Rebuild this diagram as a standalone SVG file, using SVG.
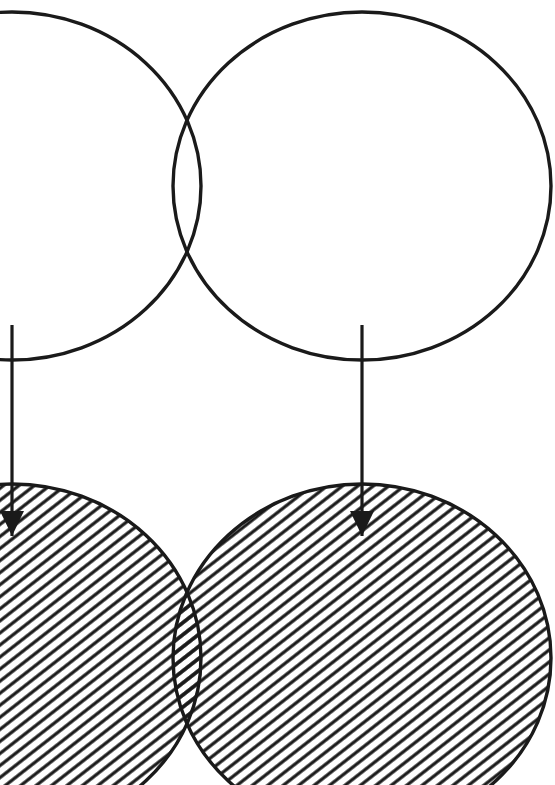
<svg xmlns="http://www.w3.org/2000/svg" width="555" height="785" viewBox="0 0 555 785">
  <style>
    .outline { fill: none; stroke: #1a1a1a; stroke-width: 3.4; }
    .hatched { fill: url(#hatch); stroke: #1a1a1a; stroke-width: 3.4; }
    .conn { stroke: #1a1a1a; stroke-width: 3.2; fill: none; }
  </style>
  <defs>
    <pattern id="hatch" patternUnits="userSpaceOnUse" width="9.5" height="9.5" patternTransform="rotate(-38)">
      <line x1="-1" y1="4.75" x2="10.5" y2="4.75" stroke="#1a1a1a" stroke-width="3.2"/>
    </pattern>
    <marker id="arrow" markerUnits="userSpaceOnUse" markerWidth="26" markerHeight="26" viewBox="0 0 26 26" refX="25" refY="13" orient="auto">
      <path d="M0,1 L25,13 L0,25 Z" fill="#1a1a1a"/>
    </marker>
  </defs>
  <rect width="555" height="785" fill="#ffffff"/>
  <g id="top-left">
    <ellipse class="outline" cx="12" cy="186" rx="189" ry="174"/>
  </g>
  <g id="top-right">
    <ellipse class="outline" cx="362" cy="186" rx="189" ry="174"/>
  </g>
  <g id="bottom-left">
    <ellipse class="hatched" cx="12" cy="658" rx="189" ry="174"/>
  </g>
  <g id="bottom-right">
    <ellipse class="hatched" cx="362" cy="658" rx="189" ry="174"/>
  </g>
  <g id="connectors">
    <line class="conn" x1="12" y1="325" x2="12" y2="536" marker-end="url(#arrow)"/>
    <line class="conn" x1="362" y1="325" x2="362" y2="536" marker-end="url(#arrow)"/>
  </g>
</svg>
